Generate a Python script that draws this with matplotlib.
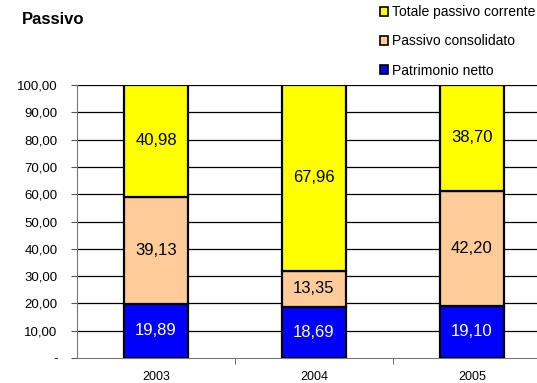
import matplotlib
matplotlib.use("Agg")
import matplotlib.pyplot as plt
from matplotlib.patches import Patch

plt.rcParams['font.family'] = ['Liberation Sans', 'DejaVu Sans']

years = ["2003", "2004", "2005"]
patrimonio = [19.89, 18.69, 19.10]
consolidato = [39.13, 13.35, 42.20]
corrente = [40.98, 67.96, 38.70]

series = [
    ("Patrimonio netto", patrimonio, "#0000FF", "white"),
    ("Passivo consolidato", consolidato, "#FFCC99", "black"),
    ("Totale passivo corrente", corrente, "#FFFF00", "black"),
]


def fmt(v):
    return f"{v:.2f}".replace(".", ",")


fig = plt.figure(figsize=(5.37, 3.83), dpi=100)
ax = fig.add_axes([77 / 537, 25 / 383, 474 / 537, 273 / 383])

x = list(range(len(years)))
ax.set_axisbelow(True)
for yv in range(10, 101, 10):
    ax.axhline(yv, color="black", lw=0.9, zorder=0)

bottom = [0, 0, 0]
handles = []
for name, vals, color, tcolor in series:
    ax.bar(x, vals, width=0.4, bottom=bottom, color=color,
           edgecolor="black", linewidth=1.6, zorder=3)
    for i, v in enumerate(vals):
        ax.text(x[i], bottom[i] + v / 2, fmt(v), ha="center", va="center",
                fontsize=12, color=tcolor, zorder=4)
    bottom = [b + v for b, v in zip(bottom, vals)]
    handles.append(Patch(facecolor=color, edgecolor="black", linewidth=1.2, label=name))

ax.set_xlim(-0.5, 2.5)
ax.set_ylim(0, 100)
ax.set_yticks(range(0, 101, 10))
ax.set_yticklabels(["-"] + [fmt(v) for v in range(10, 101, 10)], fontsize=9.5)
ax.set_xticks(x)
ax.set_xticklabels(years, fontsize=9)
ax.set_xticks([0.5, 1.5], minor=True)
ax.tick_params(axis="x", which="major", length=0, pad=9)
ax.tick_params(axis="x", which="minor", length=4, direction="out", color="#555555")
ax.tick_params(axis="y", length=4, direction="out", color="#555555", pad=10)

for side in ["top", "right"]:
    ax.spines[side].set_visible(False)
ax.spines["left"].set_color("#777777")
ax.spines["bottom"].set_color("#777777")

fig.text(22 / 537, 1 - 20 / 383, "Passivo", fontsize=12, fontweight="bold",
         ha="left", va="center")

fig.legend(handles=handles[::-1], loc="upper left",
           bbox_to_anchor=(380 / 537, 1 - 5 / 383), frameon=False,
           fontsize=10, handlelength=0.6, handleheight=0.6,
           handletextpad=0.3, labelspacing=1.1, borderpad=0, borderaxespad=0)

fig.savefig("out.png", dpi=100)
